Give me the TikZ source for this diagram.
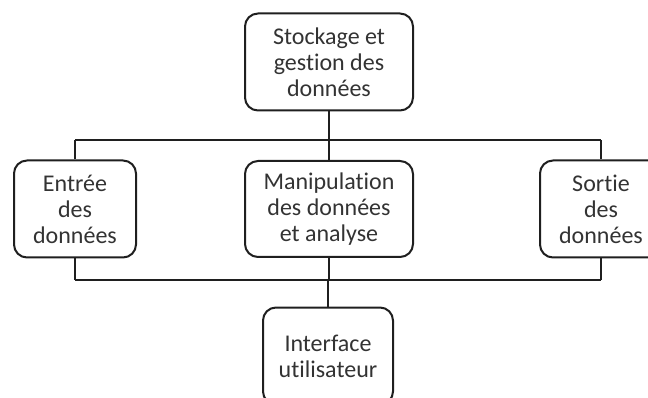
\documentclass[tikz,border=0pt]{standalone}
\usepackage{fontspec}
\setmainfont[Ligatures=NoCommon]{Carlito}
\begin{document}
\begin{tikzpicture}[x=1pt,y=-1pt,
  box/.style={draw=black!88, line width=2pt, rounded corners=13pt,
    align=center, inner sep=0pt, font=\fontsize{24}{26}\selectfont,
    text=black!80},
  link/.style={draw=black!88, line width=2.4pt}]
  \clip (0,0) rectangle (648,398);
  \useasboundingbox (0,0) rectangle (648,398);
  % boxes
  \node[box, minimum width=168pt, minimum height=97pt] (store) at (329,62)
    {Stockage et\\gestion des\\données};
  \node[box, minimum width=122pt, minimum height=97pt] (input) at (75,209)
    {Entrée\\des\\données};
  \node[box, minimum width=168pt, minimum height=96pt] (proc) at (329,209)
    {Manipulation\\des données\\et analyse};
  \node[box, minimum width=122pt, minimum height=97pt] (output) at (601,209)
    {Sortie\\des\\données};
  \node[box, minimum width=130pt, minimum height=97pt] (ui) at (328,356)
    {Interface\\utilisateur};
  % bus lines
  \coordinate (tl) at (75,140);
  \coordinate (tr) at (601,140);
  \coordinate (bl) at (75,280);
  \coordinate (br) at (601,280);
  \draw[link] (tl) -- (tr);
  \draw[link] (bl) -- (br);
  % upper bus connections
  \draw[link] (store.south) -- (store.south |- tl);
  \draw[link] (input.north) -- (tl);
  \draw[link] (proc.north) -- (proc.north |- tl);
  \draw[link] (output.north) -- (tr);
  % lower bus connections
  \draw[link] (input.south) -- (bl);
  \draw[link] (proc.south) -- (proc.south |- bl);
  \draw[link] (output.south) -- (br);
  \draw[link] (ui.north) -- (ui.north |- bl);
\end{tikzpicture}
\end{document}
